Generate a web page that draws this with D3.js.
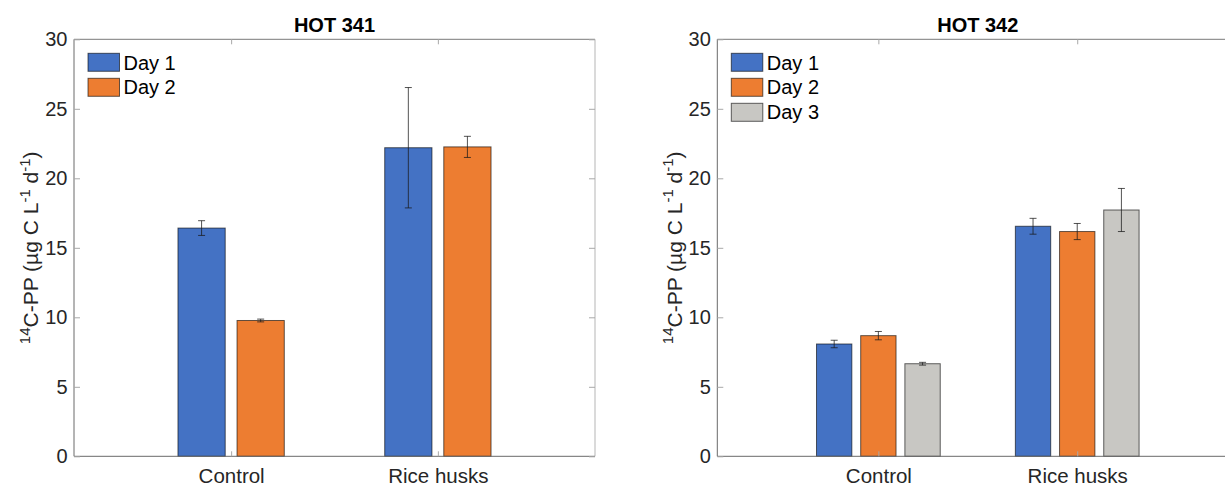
<!DOCTYPE html>
<html>
<head>
<meta charset="utf-8">
<script src="https://cdn.jsdelivr.net/npm/d3@7"></script>
<style>
  html, body { margin: 0; padding: 0; background: #fff; }
  svg { display: block; font-family: "Liberation Sans", Arial, Helvetica, sans-serif; }
</style>
</head>
<body>
<svg id="chart" width="1225" height="486"></svg>
<script>
// Treatments on the x axis
const categories = ["Control", "Rice husks"];
const yTicks = [0, 5, 10, 15, 20, 25, 30];

// HOT 341: 14C primary production (µg C L-1 d-1), mean and error
const hot341Days = ["Day 1", "Day 2"];
const hot341Day1 = [16.42, 22.20];
const hot341Day1Err = [0.53, 4.33];
const hot341Day2 = [9.77, 22.26];
const hot341Day2Err = [0.10, 0.76];

// HOT 342
const hot342Days = ["Day 1", "Day 2", "Day 3"];
const hot342Day1 = [8.08, 16.55];
const hot342Day1Err = [0.27, 0.57];
const hot342Day2 = [8.68, 16.17];
const hot342Day2Err = [0.30, 0.58];
const hot342Day3 = [6.66, 17.72];
const hot342Day3Err = [0.10, 1.55];

const dayColors = ["#4472C4", "#ED7D31", "#C8C7C3"];

const svg = d3.select("#chart");
const TOP = 39.3, BOTTOM = 456.3;
const textColor = "#262626";
const FONT = 20;

const y = d3.scaleLinear().domain([0, 30]).range([BOTTOM, TOP]);

function drawPanel(opts) {
  const { left, right, xDomain, title, series } = opts;
  const g = svg.append("g");
  const x = d3.scaleLinear().domain(xDomain).range([left, right]);
  const pxPerUnit = x(1) - x(0);
  const n = series.length;
  const groupWidth = Math.min(0.8, n / (n + 1.5)) * pxPerUnit;
  const inner = d3.scaleBand()
    .domain(series.map(s => s.name))
    .range([-groupWidth / 2, groupWidth / 2])
    .paddingInner(0.2)
    .paddingOuter(0.1);

  // bars
  series.forEach((s, si) => {
    const rows = s.values.map((v, i) => ({ v, e: s.errs[i], i }));
    g.append("g").selectAll("rect").data(rows).join("rect")
      .attr("x", d => x(d.i + 1) + inner(s.name))
      .attr("width", inner.bandwidth())
      .attr("y", d => y(d.v))
      .attr("height", d => y(0) - y(d.v))
      .attr("fill", s.color)
      .attr("stroke", "#000")
      .attr("stroke-opacity", 0.6)
      .attr("stroke-width", 1);

    // error bars
    const eb = g.append("g").attr("stroke", "#1a1a1a").attr("stroke-opacity", 0.75).attr("stroke-width", 1);
    rows.forEach(d => {
      const cx = x(d.i + 1) + inner(s.name) + inner.bandwidth() / 2;
      const y1 = y(d.v + d.e), y2 = y(d.v - d.e);
      eb.append("line").attr("x1", cx).attr("x2", cx).attr("y1", y1).attr("y2", y2);
      eb.append("line").attr("x1", cx - 3.5).attr("x2", cx + 3.5).attr("y1", y1).attr("y2", y1);
      eb.append("line").attr("x1", cx - 3.5).attr("x2", cx + 3.5).attr("y1", y2).attr("y2", y2);
    });
  });

  // axes box
  const frame = g.append("g").attr("fill", "none");
  frame.append("line").attr("x1", left).attr("x2", right).attr("y1", TOP).attr("y2", TOP).attr("stroke", "#7a7a7a");
  frame.append("line").attr("x1", right).attr("x2", right).attr("y1", TOP).attr("y2", BOTTOM).attr("stroke", "#b5b5b5");
  frame.append("line").attr("x1", left).attr("x2", left).attr("y1", TOP).attr("y2", BOTTOM).attr("stroke", "#6a6a6a");
  frame.append("line").attr("x1", left).attr("x2", right).attr("y1", BOTTOM).attr("y2", BOTTOM).attr("stroke", "#6a6a6a");

  const styleAxis = sel => {
    sel.select(".domain").remove();
    sel.selectAll(".tick line").attr("stroke", "#a8a8a8");
    sel.selectAll(".tick text").attr("fill", textColor).style("font-size", FONT + "px");
  };

  g.append("g").attr("transform", `translate(${left},0)`)
    .call(d3.axisLeft(y).tickValues(yTicks).tickSizeInner(-6).tickSizeOuter(0).tickPadding(6.5))
    .call(styleAxis);
  g.append("g").attr("transform", `translate(${right},0)`)
    .call(d3.axisRight(y).tickValues(yTicks).tickSizeInner(-6).tickSizeOuter(0).tickFormat(""))
    .call(styleAxis);
  g.append("g").attr("transform", `translate(0,${BOTTOM})`)
    .call(d3.axisBottom(x).tickValues([1, 2]).tickFormat(i => categories[i - 1]).tickSizeInner(-5).tickSizeOuter(0).tickPadding(12.5))
    .call(styleAxis)
    .selectAll(".tick text").style("font-size", "20.5px");
  g.append("g").attr("transform", `translate(0,${TOP})`)
    .call(d3.axisTop(x).tickValues([1, 2]).tickSizeInner(-5).tickSizeOuter(0).tickFormat(""))
    .call(styleAxis);

  // title
  g.append("text")
    .attr("x", (left + right) / 2).attr("y", 32)
    .attr("text-anchor", "middle")
    .attr("font-weight", "bold")
    .attr("fill", "#000")
    .style("font-size", FONT + "px")
    .text(title);

  // y label with superscripts
  const yl = g.append("text")
    .attr("transform", `translate(${left - 35.7},${(TOP + BOTTOM) / 2}) rotate(-90)`)
    .attr("text-anchor", "middle")
    .attr("fill", textColor)
    .style("font-size", "21px");
  const parts = [
    { t: "14", sup: true }, { t: "C-PP (µg C L" }, { t: "-1", sup: true },
    { t: "\u00a0d" }, { t: "-1", sup: true }, { t: ")" }
  ];
  let raised = false;
  parts.forEach(p => {
    const ts = yl.append("tspan").text(p.t);
    if (p.sup) {
      ts.style("font-size", "15px").attr("dy", raised ? 0 : -8.5);
      raised = true;
    } else {
      ts.attr("dy", raised ? 8.5 : 0);
      raised = false;
    }
  });

  // legend
  const lg = g.append("g").attr("transform", `translate(${left + 14},53.3)`);
  series.forEach((s, i) => {
    lg.append("rect")
      .attr("x", 0).attr("y", i * 25)
      .attr("width", 31.5).attr("height", 18)
      .attr("fill", s.color)
      .attr("stroke", "#000").attr("stroke-opacity", 0.6).attr("stroke-width", 1);
    lg.append("text")
      .attr("x", 35.5).attr("y", i * 25 + 9)
      .attr("dy", "0.36em")
      .attr("fill", "#000")
      .style("font-size", FONT + "px")
      .text(s.name);
  });
}

drawPanel({
  left: 74, right: 595, xDomain: [0.24, 2.76], title: "HOT 341",
  series: [
    { name: hot341Days[0], values: hot341Day1, errs: hot341Day1Err, color: dayColors[0] },
    { name: hot341Days[1], values: hot341Day2, errs: hot341Day2Err, color: dayColors[1] }
  ]
});

drawPanel({
  left: 717.3, right: 1238.3, xDomain: [0.19, 2.81], title: "HOT 342",
  series: [
    { name: hot342Days[0], values: hot342Day1, errs: hot342Day1Err, color: dayColors[0] },
    { name: hot342Days[1], values: hot342Day2, errs: hot342Day2Err, color: dayColors[1] },
    { name: hot342Days[2], values: hot342Day3, errs: hot342Day3Err, color: dayColors[2] }
  ]
});
</script>
</body>
</html>
